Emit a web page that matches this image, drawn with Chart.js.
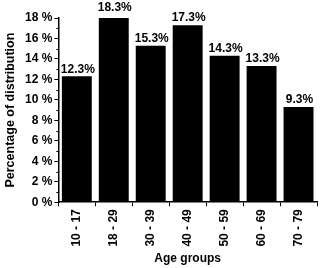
<!DOCTYPE html>
<html>
<head>
<meta charset="utf-8">
<script src="https://cdn.jsdelivr.net/npm/chart.js@4"></script>
<style>
  html, body { margin: 0; padding: 0; background: #fff; }
  #wrap { width: 320px; height: 268px; }
</style>
</head>
<body>
<div id="wrap"><canvas id="chart"></canvas></div>
<script>
var age_groups = ['10 - 17', '18 - 29', '30 - 39', '40 - 49', '50 - 59', '60 - 69', '70 - 79'];
var distribution = [12.3, 18.3, 15.3, 17.3, 14.3, 13.3, 9.3];
var y_ticks = [0, 2, 4, 6, 8, 10, 12, 14, 16, 18];

var font = { family: 'Liberation Sans, Arial, sans-serif', weight: 'bold', size: 12 };

// value labels above each bar
var bar_labels = {
    id: 'bar_labels',
    afterDatasetsDraw: function(chart) {
        var ctx = chart.ctx;
        var meta = chart.getDatasetMeta(0);
        ctx.save();
        ctx.font = 'bold 12px Liberation Sans, Arial, sans-serif';
        ctx.fillStyle = '#000';
        ctx.textAlign = 'center';
        ctx.textBaseline = 'bottom';
        meta.data.forEach(function(bar, i) {
            var top = Math.max(bar.y, chart.chartArea.top - 3);
            ctx.fillText(distribution[i].toFixed(1) + '%', bar.x + 1, top - 1);
        });
        ctx.restore();
    }
};

// small ticks between the labelled ones on the y axis
var minor_ticks = {
    id: 'minor_ticks',
    afterDraw: function(chart) {
        var ctx = chart.ctx;
        var y = chart.scales.y;
        ctx.save();
        ctx.strokeStyle = '#000';
        ctx.lineWidth = 1;
        for (var v = 1; v < 18; v += 2) {
            var py = Math.round(y.getPixelForValue(v)) + 0.5;
            ctx.beginPath();
            ctx.moveTo(y.right - 2, py);
            ctx.lineTo(y.right, py);
            ctx.stroke();
        }
        ctx.restore();
    }
};

new Chart(document.getElementById('chart'), {
    type: 'bar',
    data: {
        labels: age_groups,
        datasets: [{
            data: distribution,
            backgroundColor: '#000',
            borderWidth: 0,
            barPercentage: 0.81,
            categoryPercentage: 1
        }]
    },
    options: {
        responsive: true,
        maintainAspectRatio: false,
        animation: false,
        layout: { padding: { top: 18, right: 3, left: 3, bottom: 2 } },
        plugins: {
            legend: { display: false },
            tooltip: { enabled: false }
        },
        scales: {
            x: {
                grid: { drawOnChartArea: false, color: '#000', tickLength: 4, offset: true },
                border: { color: '#000', width: 1.5 },
                ticks: {
                    color: '#000', font: font, maxRotation: 90, minRotation: 90, padding: 3
                },
                title: {
                    display: true, text: 'Age groups', color: '#000', font: font,
                    padding: { top: 2, bottom: 0 }
                }
            },
            y: {
                min: 0,
                max: 18,
                afterBuildTicks: function(scale) {
                    scale.ticks = y_ticks.map(function(v) { return { value: v }; });
                },
                grid: { drawOnChartArea: false, color: '#000', tickLength: 4 },
                border: { color: '#000', width: 1.5 },
                ticks: {
                    color: '#000', font: font, padding: 2,
                    callback: function(v) { return v + ' %'; }
                },
                title: {
                    display: true, text: 'Percentage of distribution', color: '#000',
                    font: { family: font.family, weight: 'bold', size: 12.5 },
                    padding: { top: 0, bottom: 5 }
                }
            }
        }
    },
    plugins: [bar_labels, minor_ticks]
});
</script>
</body>
</html>
